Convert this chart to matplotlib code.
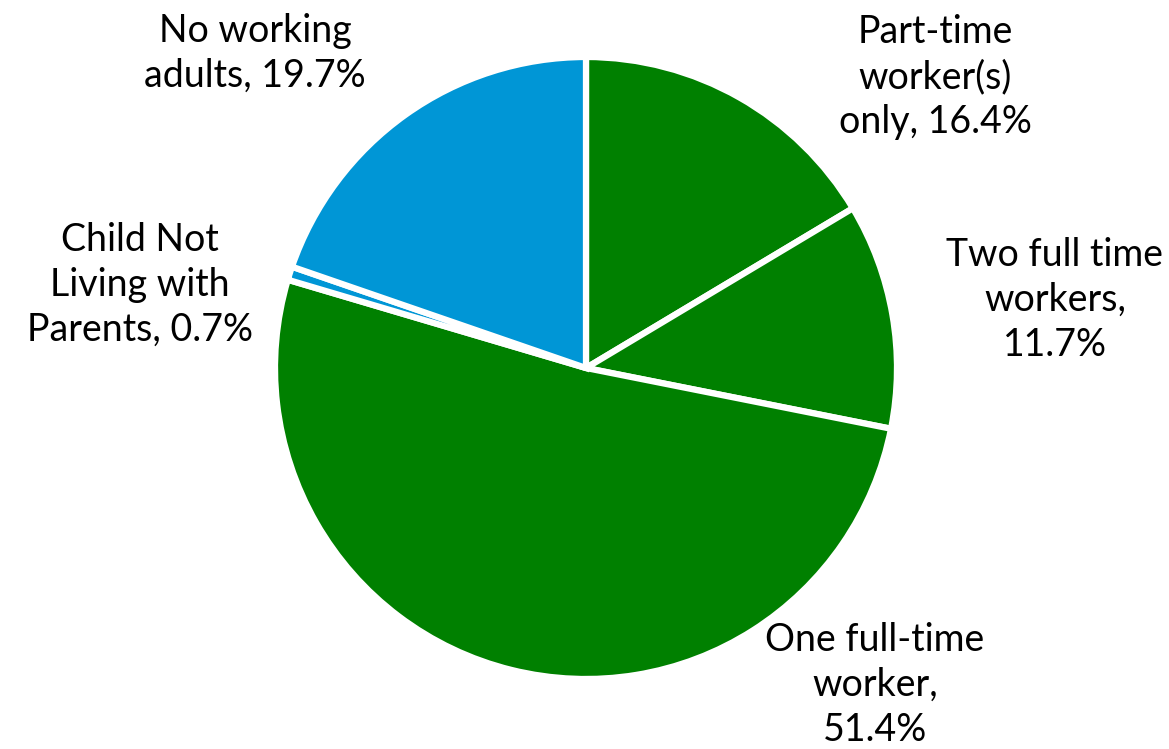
import matplotlib
matplotlib.use("Agg")
import matplotlib.pyplot as plt

# household work status shares, clockwise from 12 o'clock
categories = ["Part-time\nworker(s)\nonly", "Two full time\nworkers,\n", "One full-time\nworker,\n",
              "Child Not\nLiving with\nParents", "No working\nadults"]
shares = [16.4, 11.7, 51.4, 0.7, 19.7]
label_seps = [", ", "", "", ", ", ", "]
colors = ["#008000", "#008000", "#008000", "#0096D6", "#0096D6"]

# label anchor points (figure pixels, y measured from top)
label_xy = [(935, 77), (1055, 300), (875, 685), (140, 285), (255, 53)]

W, H = 1169, 749
fig = plt.figure(figsize=(W / 100, H / 100), dpi=100)
ax = fig.add_axes([0, 0, 1, 1])

cx, cy, r = 586, H - 368, 311
ax.pie(shares, colors=colors, startangle=90, counterclock=False,
       center=(cx, cy), radius=r, frame=True,
       wedgeprops=dict(edgecolor="white", linewidth=4.5))
ax.set_xlim(0, W)
ax.set_ylim(0, H)
ax.axis("off")

for name, sep, val, (lx, ly) in zip(categories, label_seps, shares, label_xy):
    ax.text(lx, H - ly, f"{name}{sep}{val}%", ha="center", va="center",
            fontsize=27, family="Lato", linespacing=1.3, color="black")

fig.savefig("out.png", dpi=100)
